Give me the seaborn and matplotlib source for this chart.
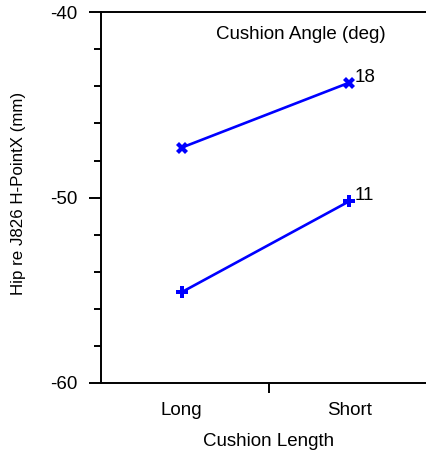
import matplotlib
matplotlib.use("Agg")
import matplotlib.pyplot as plt
import seaborn as sns
import pandas as pd
from matplotlib.ticker import FixedLocator, MultipleLocator

# Hip position relative to the J826 H-point, by cushion length and cushion angle
cushion_length = ["Long", "Short"]
angle_labels = ["18", "11"]
hip_angle_18 = [-47.3, -43.8]
hip_angle_11 = [-55.1, -50.2]
y_ticks = [-60, -50, -40]

df = pd.DataFrame({
    "Cushion Length": cushion_length * 2,
    "Angle": [angle_labels[0]] * 2 + [angle_labels[1]] * 2,
    "Hip": hip_angle_18 + hip_angle_11,
})

sns.set_theme(style="ticks")
plt.rcParams["font.family"] = ["Liberation Sans", "DejaVu Sans"]
FS = 13.5

fig = plt.figure(figsize=(4.26, 4.5), dpi=100)
ax = fig.add_axes([0.2371, 0.1489, 0.789, 0.8238])

sns.lineplot(
    data=df, x="Cushion Length", y="Hip", hue="Angle", style="Angle",
    markers={"18": "X", "11": "P"}, dashes=False,
    palette={"18": "#0000ff", "11": "#0000ff"},
    markersize=9, linewidth=1.9, markeredgewidth=0,
    legend=False, sort=False, ax=ax,
)

ax.set_xlim(-0.482, 1.526)
ax.set_ylim(-60, -40)

# y axis: labelled majors every 10, minor ticks every 2
ax.yaxis.set_major_locator(FixedLocator(y_ticks))
ax.yaxis.set_minor_locator(MultipleLocator(2))
ax.set_yticklabels([str(v) for v in y_ticks])
ax.tick_params(axis="y", which="major", direction="out", length=8.6, width=1.4,
               pad=8.5, labelsize=FS, color="black", labelcolor="black")
ax.tick_params(axis="y", which="minor", direction="out", length=5, width=1.4,
               color="black")

# x axis: category labels without marks, one divider mark between them
ax.xaxis.set_minor_locator(FixedLocator([0.522]))
ax.tick_params(axis="x", which="major", length=0, pad=14, labelsize=FS,
               labelcolor="black")
ax.tick_params(axis="x", which="minor", direction="out", length=7, width=1.4,
               color="black")

for side in ["left", "bottom", "top", "right"]:
    ax.spines[side].set_visible(True)
    ax.spines[side].set_linewidth(1.4)
    ax.spines[side].set_color("black")

ax.set_xlabel("Cushion Length", fontsize=FS, labelpad=9.5, color="black")
ax.set_ylabel("Hip re J826 H-PointX (mm)", fontsize=12.2, color="black")
ax.yaxis.set_label_coords(-0.223, 0.511)

# series labels at the right-hand end of each line
for label, vals in zip(angle_labels, [hip_angle_18, hip_angle_11]):
    ax.annotate(label, (1, vals[-1]), xytext=(4, 4), textcoords="offset points",
                va="center", ha="left", fontsize=FS, color="black")

ax.text(0.713, -41.22, "Cushion Angle (deg)", ha="center", va="center",
        fontsize=FS, color="black")

fig.savefig("out.png", dpi=100)
